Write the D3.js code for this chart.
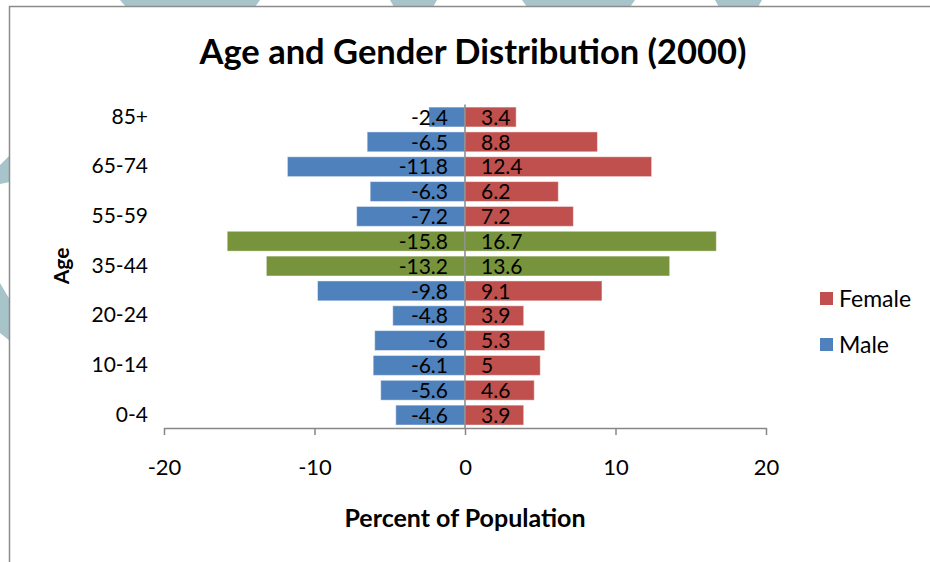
<!DOCTYPE html>
<html lang="en">
    <head>
        <title>age and gender</title>
        <meta charset="UTF-8">
        <script src="https://cdn.jsdelivr.net/npm/d3@7"></script>
        <style>
            body { margin: 0; background: #fff; }
            text { font-family: Lato, "Open Sans", sans-serif; fill: #000; }
        </style>
    </head>
    <body>
        <div id="root"></div>
<script>

var width = 930
var height = 562

// age groups, bottom to top
var ages = ['0-4', '5-9', '10-14', '15-19', '20-24', '25-34', '35-44', '45-54', '55-59', '60-64', '65-74', '75-84', '85+']
var male = [-4.6, -5.6, -6.1, -6, -4.8, -9.8, -13.2, -15.8, -7.2, -6.3, -11.8, -6.5, -2.4]
var female = [3.9, 4.6, 5, 5.3, 3.9, 9.1, 13.6, 16.7, 7.2, 6.2, 12.4, 8.8, 3.4]
// groups drawn in green
var highlight = ['35-44', '45-54']
var xTicks = [-20, -10, 0, 10, 20]
var shownAges = ['0-4', '10-14', '20-24', '35-44', '55-59', '65-74', '85+']
var seriesNames = ['Female', 'Male']

var maleColor = '#4f81bd'
var femaleColor = '#c0504d'
var greenColor = '#77933c'
var axisColor = '#868686'
var teal = '#a8c4cb'

var svg = d3.select('#root')
            .append('svg')
            .attr('width', width)
            .attr('height', height)

// background stripes peeking out around the chart frame
var stripes = [
    [[120, 0], [260, 0], [255, 7], [126, 7]],
    [[390, 0], [437, 0], [433, 7], [394, 7]],
    [[522, 0], [635, 0], [630, 7], [527, 7]],
    [[715, 0], [762, 0], [758, 7], [719, 7]],
    [[0, 165], [10, 155], [10, 182], [0, 184]],
    [[0, 283], [10, 300], [10, 341], [0, 333]]
]
svg.selectAll('polygon.stripe')
    .data(stripes)
    .enter()
    .append('polygon')
        .attr('class', 'stripe')
        .attr('points', function(d){ return d.join(' ') })
        .attr('fill', teal)

// chart frame
svg.append('rect')
    .attr('x', 9.5)
    .attr('y', 6.5)
    .attr('width', width + 10)
    .attr('height', height + 10)
    .attr('fill', '#fff')
    .attr('stroke', '#8c8c8c')
    .attr('stroke-width', 1.5)

var x = d3.scaleLinear()
          .domain([-20, 20])
          .range([164, 766])

var y = d3.scaleBand()
          .domain(ages.slice().reverse())
          .range([104.6, 427.5])
          .paddingInner(0.2)
          .paddingOuter(0.1)

var rows = ages.map(function(a, i){
    return {age: a, male: male[i], female: female[i]}
})

function barColor(d, base){
    return highlight.indexOf(d.age) >= 0 ? greenColor : base
}

var g = svg.append('g')

// male bars (negative side)
g.selectAll('rect.male')
    .data(rows)
    .enter()
    .append('rect')
        .attr('class', 'male')
        .attr('x', function(d){ return x(d.male) })
        .attr('y', function(d){ return y(d.age) })
        .attr('width', function(d){ return x(0) - x(d.male) })
        .attr('height', y.bandwidth())
        .attr('fill', function(d){ return barColor(d, maleColor) })
        .attr('stroke', 'rgba(255,255,255,0.45)')

// female bars
g.selectAll('rect.female')
    .data(rows)
    .enter()
    .append('rect')
        .attr('class', 'female')
        .attr('x', x(0))
        .attr('y', function(d){ return y(d.age) })
        .attr('width', function(d){ return x(d.female) - x(0) })
        .attr('height', y.bandwidth())
        .attr('fill', function(d){ return barColor(d, femaleColor) })
        .attr('stroke', 'rgba(255,255,255,0.45)')

// data labels
g.selectAll('text.mlab')
    .data(rows)
    .enter()
    .append('text')
        .attr('class', 'mlab')
        .attr('x', x(0) - 17)
        .attr('y', function(d){ return y(d.age) + y.bandwidth() / 2 })
        .attr('dy', '0.37em')
        .attr('text-anchor', 'end')
        .style('font-size', '21px')
        .text(function(d){ return d.male })

g.selectAll('text.flab')
    .data(rows)
    .enter()
    .append('text')
        .attr('class', 'flab')
        .attr('x', x(0) + 16)
        .attr('y', function(d){ return y(d.age) + y.bandwidth() / 2 })
        .attr('dy', '0.37em')
        .style('font-size', '21px')
        .text(function(d){ return d.female })

// x axis, plain hyphen for negatives like the original
var xAxis = svg.append('g')
    .attr('transform', 'translate(0,428)')
    .call(d3.axisBottom(x)
        .tickValues(xTicks)
        .tickSize(7)
        .tickPadding(24)
        .tickSizeOuter(0)
        .tickFormat(function(d){ return String(d) }))
xAxis.select('.domain').attr('stroke', axisColor).attr('stroke-width', 1.5)
xAxis.selectAll('.tick line').attr('stroke', axisColor).attr('stroke-width', 1.5)
xAxis.selectAll('.tick text')
    .style('font-size', '22px')
    .style('font-family', 'Lato, sans-serif')
    .attr('fill', '#000')

// vertical category axis sitting on zero
svg.append('line')
    .attr('x1', x(0))
    .attr('x2', x(0))
    .attr('y1', 104.6)
    .attr('y2', 428)
    .attr('stroke', axisColor)
    .attr('stroke-width', 1.5)

// age labels on the left
var yAxis = svg.append('g')
    .attr('transform', 'translate(148,0)')
    .call(d3.axisLeft(y).tickValues(shownAges).tickSize(0).tickPadding(0))
yAxis.select('.domain').remove()
yAxis.selectAll('.tick text')
    .style('font-size', '21px')
    .style('font-family', 'Lato, sans-serif')
    .attr('fill', '#000')

// titles
svg.append('text')
    .attr('x', 473)
    .attr('y', 52)
    .attr('dy', '0.35em')
    .attr('text-anchor', 'middle')
    .style('font-size', '34.5px')
    .style('font-weight', 'bold')
    .text('Age and Gender Distribution (2000)')

svg.append('text')
    .attr('x', 465)
    .attr('y', 518)
    .attr('dy', '0.35em')
    .attr('text-anchor', 'middle')
    .style('font-size', '25px')
    .style('font-weight', 'bold')
    .text('Percent of Population')

svg.append('text')
    .attr('transform', 'translate(62,266) rotate(-90)')
    .attr('dy', '0.35em')
    .attr('text-anchor', 'middle')
    .style('font-size', '21px')
    .style('font-weight', 'bold')
    .text('Age')

// legend
var legend = svg.selectAll('g.legend')
    .data(seriesNames)
    .enter()
    .append('g')
        .attr('class', 'legend')
        .attr('transform', function(d, i){ return 'translate(820,' + (292 + i * 46) + ')' })
legend.append('rect')
    .attr('width', 13)
    .attr('height', 13)
    .attr('fill', function(d){ return d == 'Female' ? femaleColor : maleColor })
legend.append('text')
    .attr('x', 19)
    .attr('y', 7)
    .attr('dy', '0.36em')
    .style('font-size', '23px')
    .text(function(d){ return d })

</script>
    </body>
</html>
